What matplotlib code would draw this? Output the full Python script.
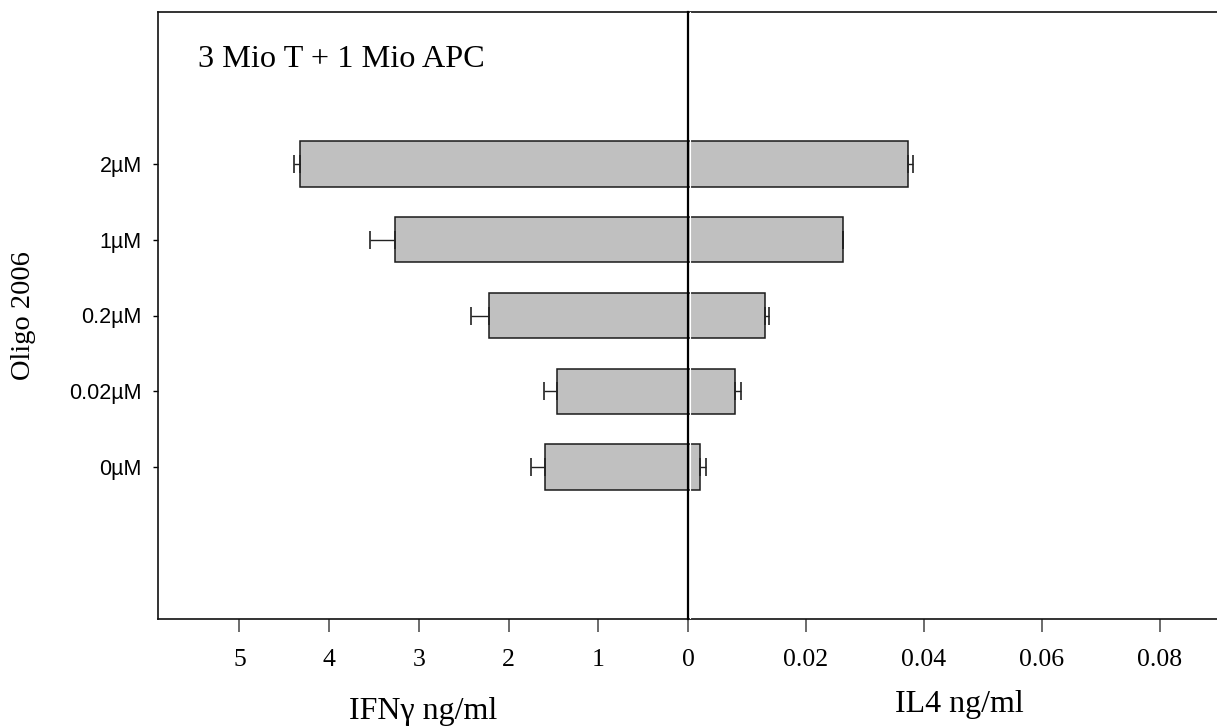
import matplotlib
matplotlib.use('Agg')
import matplotlib.pyplot as plt
import numpy as np

# data
conc = ['2µM', '1µM', '0.2µM', '0.02µM', '0µM']
ifn = [4.32, 3.27, 2.22, 1.46, 1.59]          # IFNg ng/ml (left side)
ifn_err = [0.07, 0.27, 0.20, 0.15, 0.16]
il4 = [0.0373, 0.0263, 0.0131, 0.0080, 0.0020]  # IL4 ng/ml (right side)
il4_err = [0.0008, 0.0, 0.0007, 0.0009, 0.0010]

ifn_ticks = [5, 4, 3, 2, 1, 0]
il4_ticks = [0.02, 0.04, 0.06, 0.08]

serif = 'Liberation Serif'
sans = 'Liberation Sans'

W, H = 1217, 728
fig = plt.figure(figsize=(W / 100, H / 100), dpi=100)

x0, xc, x1 = 158, 688, 1250
ytop, ybot = 12, 619
axl = fig.add_axes([x0 / W, 1 - ybot / H, (xc - x0) / W, (ybot - ytop) / H])
axr = fig.add_axes([xc / W, 1 - ybot / H, (x1 - xc) / W, (ybot - ytop) / H])

pos = np.arange(len(conc))[::-1]
bar_kw = dict(height=0.6, color='#c0c0c0', edgecolor='#1a1a1a', linewidth=1.1)
err_kw = dict(ecolor='#222222', elinewidth=1.0, capthick=1.2, capsize=6.5)

axl.barh(pos, ifn, xerr=[np.zeros(len(ifn)), ifn_err], error_kw=err_kw, **bar_kw)
axr.barh(pos, il4, xerr=[np.zeros(len(il4)), il4_err], error_kw=err_kw, **bar_kw)

axl.set_xlim(530 / 89.7, 0)
axr.set_xlim(0, (x1 - xc) / 5900)
for ax in (axl, axr):
    ax.set_ylim(-2, 6)
    for s in ax.spines.values():
        s.set_linewidth(1.2)
        s.set_color('#111111')
    ax.tick_params(axis='x', direction='out', length=9.5, width=1.1,
                   color='#444444', pad=12, labelsize=18.5)

axl.spines['right'].set_visible(False)
axr.spines['left'].set_visible(False)
axr.spines['right'].set_visible(False)

axl.set_xticks(ifn_ticks)
axl.set_xticklabels([str(t) for t in ifn_ticks], fontfamily=serif, fontsize=18.5)
axr.set_xticks(il4_ticks)
axr.set_xticklabels([f'{t:.2f}' for t in il4_ticks], fontfamily=serif, fontsize=18.5)

axl.set_yticks(pos)
axl.set_yticklabels(conc, fontfamily=sans, fontsize=15.5)
axl.tick_params(axis='y', direction='out', length=3.6, width=1.0, pad=8)
axr.set_yticks([])

# centre line
axr.axvline(0, color='black', linewidth=1.6, zorder=5, clip_on=False)
axr.axvline(1.6 / 5900, color='white', linewidth=0.8, zorder=4)

fig.text(198 / W, 1 - 67 / H, '3 Mio T + 1 Mio APC', fontfamily=serif,
         fontsize=23.2, ha='left', va='baseline')
fig.text(23 / W, 1 - 316 / H, 'Oligo 2006', fontfamily=serif, fontsize=20.5,
         rotation=90, ha='center', va='center')
fig.text(423 / W, 1 - 719 / H, 'IFNγ ng/ml', fontfamily=serif, fontsize=23,
         ha='center', va='baseline')
fig.text(959 / W, 1 - 712 / H, 'IL4 ng/ml', fontfamily=serif, fontsize=23,
         ha='center', va='baseline')

fig.savefig('out.png', dpi=100)
